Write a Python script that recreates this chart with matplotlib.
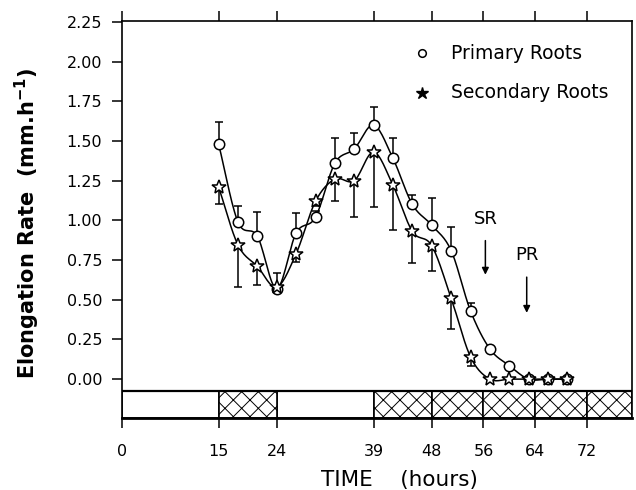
import numpy as np
import matplotlib.pyplot as plt
from matplotlib.patches import Rectangle

plt.rcParams['font.family'] = ['DejaVu Sans']
plt.rcParams['mathtext.fontset'] = 'dejavusans'
plt.rcParams['hatch.linewidth'] = 0.7

# time (hours)
hours = [15, 18, 21, 24, 27, 30, 33, 36, 39, 42, 45, 48, 51, 54, 57, 60, 63, 66, 69]

# primary roots (circles), error bars upward
primary = [1.48, 0.99, 0.90, 0.57, 0.92, 1.02, 1.36, 1.45, 1.60, 1.39, 1.10, 0.97,
           0.81, 0.43, 0.19, 0.085, 0.0, 0.0, 0.0]
primary_err = [0.14, 0.10, 0.15, 0.10, 0.125, 0.04, 0.16, 0.10, 0.115, 0.13, 0.06, 0.17,
               0.15, 0.05, 0.01, 0.01, 0.0, 0.0, 0.0]

# secondary roots (stars), error bars downward
secondary = [1.21, 0.845, 0.71, 0.58, 0.79, 1.12, 1.26, 1.25, 1.43, 1.22, 0.93, 0.84,
             0.51, 0.14, 0.0, 0.0, 0.0, 0.0, 0.0]
secondary_err = [0.11, 0.265, 0.12, 0.02, 0.05, 0.03, 0.14, 0.23, 0.345, 0.28, 0.20, 0.16,
                 0.195, 0.06, 0.0, 0.0, 0.0, 0.0, 0.0]

xticks = [0, 15, 24, 39, 48, 56, 64, 72]
yticks = [0.0, 0.25, 0.5, 0.75, 1.0, 1.25, 1.5, 1.75, 2.0, 2.25]

# light / dark periods in the strip under the plot
light = [(0, 15), (24, 39)]
dark = [(15, 24), (39, 48), (48, 56), (56, 64), (64, 72), (72, 79)]

xmax = 79
band_lo, band_hi = -0.245, -0.076


def smooth(x, y, n=16):
    # catmull-rom curve through the points, only used to draw the line
    x = np.asarray(x, float)
    y = np.asarray(y, float)
    px = np.concatenate([[2*x[0]-x[1]], x, [2*x[-1]-x[-2]]])
    py = np.concatenate([[2*y[0]-y[1]], y, [2*y[-1]-y[-2]]])
    xs, ys = [], []
    t = np.linspace(0, 1, n, endpoint=False)
    for i in range(1, len(px)-2):
        for p, out in ((px, xs), (py, ys)):
            p0, p1, p2, p3 = p[i-1], p[i], p[i+1], p[i+2]
            out.extend(0.5*((2*p1) + (-p0+p2)*t + (2*p0-5*p1+4*p2-p3)*t**2
                            + (-p0+3*p1-3*p2+p3)*t**3))
    xs.append(x[-1])
    ys.append(y[-1])
    return np.array(xs), np.array(ys)


fig = plt.figure(figsize=(6.36, 4.90), dpi=100)
ax = fig.add_axes([0.1914, 0.1469, 0.8023, 0.810])

# curves
sx, sy = smooth(hours, primary)
ax.plot(sx, sy, 'k-', lw=1.1, zorder=2)
sx, sy = smooth(hours, secondary)
ax.plot(sx, sy, 'k-', lw=1.1, zorder=2)

# error bars
ax.errorbar(hours, primary, yerr=[np.zeros(len(hours)), primary_err], fmt='none',
            ecolor='k', elinewidth=1.1, capsize=3, capthick=1.1, zorder=3)
ax.errorbar(hours, secondary, yerr=[secondary_err, np.zeros(len(hours))], fmt='none',
            ecolor='k', elinewidth=1.1, capsize=3, capthick=1.1, zorder=3)

ax.plot(hours, primary, 'o', ms=7.5, mfc='white', mec='k', mew=1.1, ls='none', zorder=4)
ax.plot(hours, secondary, '*', ms=10.5, mfc='white', mec='k', mew=1.1, ls='none', zorder=5)

# light/dark strip
for a, b in light:
    ax.add_patch(Rectangle((a, band_lo), b-a, band_hi-band_lo, fc='white', ec='k', lw=1.2, zorder=1))
for a, b in dark:
    ax.add_patch(Rectangle((a, band_lo), b-a, band_hi-band_lo, fc='white', ec='k', lw=1.2,
                           hatch='xx', zorder=1))
ax.axhline(band_hi, color='k', lw=1.6, zorder=1)

# SR / PR arrows
ax.annotate('', xy=(56.3, 0.64), xytext=(56.3, 0.89),
            arrowprops=dict(arrowstyle='-|>', color='k', lw=1.1, mutation_scale=10))
ax.text(56.3, 1.01, 'SR', ha='center', va='center', fontsize=13)
ax.annotate('', xy=(62.7, 0.40), xytext=(62.7, 0.66),
            arrowprops=dict(arrowstyle='-|>', color='k', lw=1.1, mutation_scale=10))
ax.text(62.7, 0.78, 'PR', ha='center', va='center', fontsize=13)

# legend
ax.plot([0.588], [0.919], 'o', ms=5.5, mfc='white', mec='k', mew=1.1, transform=ax.transAxes)
ax.text(0.646, 0.919, 'Primary Roots', transform=ax.transAxes, ha='left', va='center', fontsize=13.5)
ax.plot([0.588], [0.819], '*', ms=9, mfc='k', mec='k', transform=ax.transAxes)
ax.text(0.646, 0.819, 'Secondary Roots', transform=ax.transAxes, ha='left', va='center', fontsize=13.5)

ax.set_xlim(0, xmax)
ax.set_ylim(band_lo, 2.255)
ax.set_xticks(xticks)
ax.set_yticks(yticks)
ax.set_yticklabels(['%.2f' % v for v in yticks])
ax.tick_params(axis='y', direction='out', length=7, width=1.1, pad=7, labelsize=11.5)
ax.tick_params(axis='x', direction='out', length=7, width=1.1, pad=12, labelsize=11.5,
               top=True)
for s in ax.spines.values():
    s.set_linewidth(1.2)
ax.spines['bottom'].set_linewidth(2)

ax.set_ylabel('Elongation Rate  (mm.h$^{\\mathbf{-1}}$)', fontsize=15, fontweight='bold')
ax.yaxis.set_label_coords(-0.157, 0.49)
ax.text(0.545, -0.156, 'TIME    (hours)', transform=ax.transAxes, ha='center', va='center',
        fontsize=15.5)

fig.savefig('out.png', dpi=100)
